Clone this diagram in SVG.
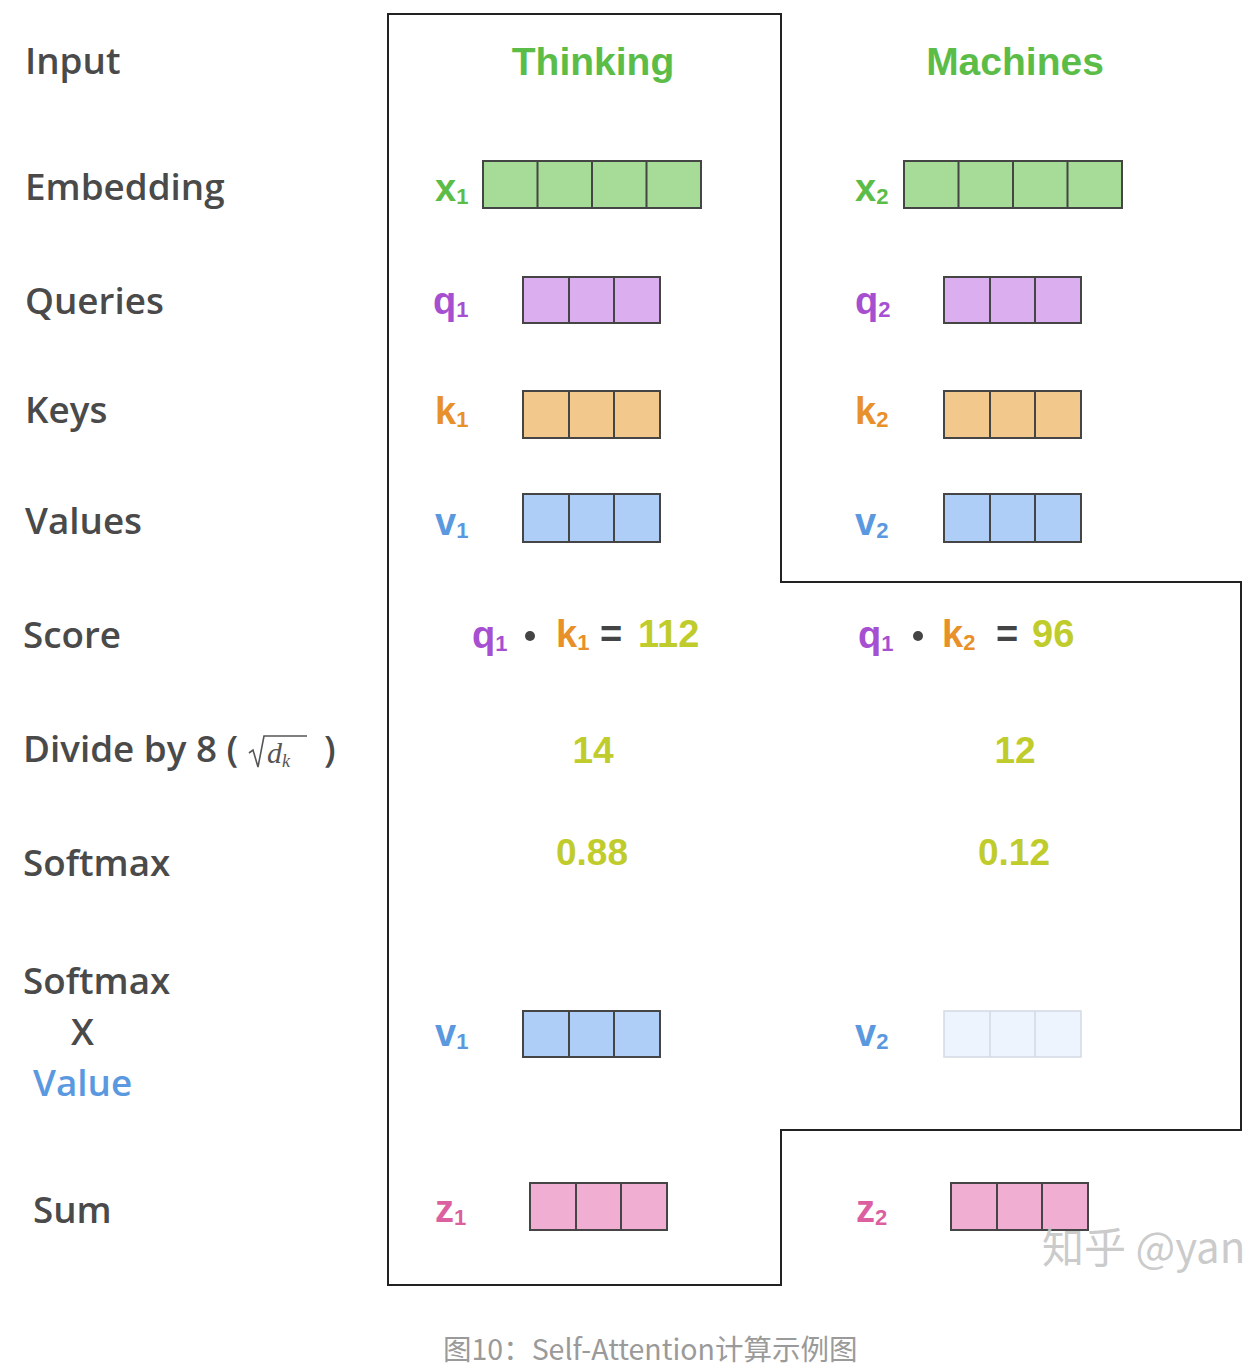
<svg xmlns="http://www.w3.org/2000/svg" width="1252" height="1368" viewBox="0 0 1252 1368">
<style>
.lbl{font-family:"Open Sans","Noto Sans",sans-serif;font-size:36.8px;font-weight:600;fill:#4a4a4a}
.hd{font-family:"Liberation Sans",Arial,sans-serif;font-weight:bold;font-size:39px;fill:#5bbd48;text-anchor:middle}
.v{font-family:"Liberation Sans",Arial,sans-serif;font-weight:bold;font-size:38px}
.num{font-family:"Liberation Sans",Arial,sans-serif;font-weight:bold;font-size:37px;fill:#bfcc2b;text-anchor:middle}
.cell{stroke:#454545;stroke-width:2}
.g{fill:#a6dc97}.p{fill:#dbaeef}.o{fill:#f3c88d}.b{fill:#aecef8}.k{fill:#f0aed3}
.fade{fill:#eef4fd;stroke:#d3d9e2;stroke-width:1.5}
.tg{fill:#5bbd48}.tp{fill:#a64fd1}.to{fill:#e8902a}.tb{fill:#5a98e0}.tk{fill:#dc5fa0}
</style>

<g id="outline">
<path d="M388,14 H781 V582 H1241 V1130 H781 V1285 H388 Z" fill="none" stroke="#222" stroke-width="2"/>
</g>

<g id="row-labels">
<text class="lbl" x="25" y="74">Input</text>
<text class="lbl" x="25" y="200">Embedding</text>
<text class="lbl" x="25" y="314">Queries</text>
<text class="lbl" x="25" y="423">Keys</text>
<text class="lbl" x="25" y="534">Values</text>
<text class="lbl" x="23" y="648">Score</text>
<text class="lbl" x="23" y="762">Divide by 8 (</text>
<g id="sqrt-dk" fill="#555" stroke="#555">
<path d="M249,753 L253,750 L258,767 L264,736 H307" fill="none" stroke-width="1.6"/>
<text x="267" y="763" stroke="none" font-family="Liberation Serif,serif" font-style="italic" font-size="30">d<tspan font-size="18" dy="4">k</tspan></text>
</g>
<text class="lbl" x="324" y="762">)</text>
<text class="lbl" x="23" y="876">Softmax</text>
<text class="lbl" x="23" y="994">Softmax</text>
<text class="lbl" x="71" y="1045">X</text>
<text class="lbl" x="33" y="1096" style="fill:#5a98e0">Value</text>
<text class="lbl" x="33" y="1223">Sum</text>
</g>

<g id="headers">
<text class="hd" x="593" y="75">Thinking</text>
<text class="hd" x="1015" y="75">Machines</text>
</g>

<g id="x1">
<text class="v tg" x="435" y="201">x<tspan font-size="22" dy="3">1</tspan></text>
<rect class="cell g" x="483" y="161" width="218" height="47"/>
<path class="cell" d="M537.5,161V208M592,161V208M646.5,161V208" fill="none"/>
</g>
<g id="x2">
<text class="v tg" x="855" y="201">x<tspan font-size="22" dy="3">2</tspan></text>
<rect class="cell g" x="904" y="161" width="218" height="47"/>
<path class="cell" d="M958.5,161V208M1013,161V208M1067.5,161V208" fill="none"/>
</g>

<g id="q1">
<text class="v tp" x="433" y="314">q<tspan font-size="22" dy="3">1</tspan></text>
<rect class="cell p" x="523" y="277" width="137" height="46"/>
<path class="cell" d="M569,277V323M614,277V323" fill="none"/>
</g>
<g id="q2">
<text class="v tp" x="855" y="314">q<tspan font-size="22" dy="3">2</tspan></text>
<rect class="cell p" x="944" y="277" width="137" height="46"/>
<path class="cell" d="M990,277V323M1035,277V323" fill="none"/>
</g>

<g id="k1">
<text class="v to" x="435" y="424">k<tspan font-size="22" dy="3">1</tspan></text>
<rect class="cell o" x="523" y="391" width="137" height="47"/>
<path class="cell" d="M569,391V438M614,391V438" fill="none"/>
</g>
<g id="k2">
<text class="v to" x="855" y="424">k<tspan font-size="22" dy="3">2</tspan></text>
<rect class="cell o" x="944" y="391" width="137" height="47"/>
<path class="cell" d="M990,391V438M1035,391V438" fill="none"/>
</g>

<g id="v1">
<text class="v tb" x="435" y="535">v<tspan font-size="22" dy="3">1</tspan></text>
<rect class="cell b" x="523" y="494" width="137" height="48"/>
<path class="cell" d="M569,494V542M614,494V542" fill="none"/>
</g>
<g id="v2">
<text class="v tb" x="855" y="535">v<tspan font-size="22" dy="3">2</tspan></text>
<rect class="cell b" x="944" y="494" width="137" height="48"/>
<path class="cell" d="M990,494V542M1035,494V542" fill="none"/>
</g>

<g id="score1">
<text class="v" x="472" y="648"><tspan class="tp">q</tspan><tspan class="tp" font-size="22" dy="3">1</tspan></text>
<circle cx="530" cy="636" r="5" fill="#444"/>
<text class="v" x="556" y="647"><tspan class="to">k</tspan><tspan class="to" font-size="22" dy="3">1</tspan></text>
<text class="v" x="600" y="647" fill="#444">=</text>
<text class="v" x="638" y="647" style="fill:#bfcc2b">112</text>
</g>
<g id="score2">
<text class="v" x="858" y="648"><tspan class="tp">q</tspan><tspan class="tp" font-size="22" dy="3">1</tspan></text>
<circle cx="918" cy="636" r="5" fill="#444"/>
<text class="v" x="942" y="647"><tspan class="to">k</tspan><tspan class="to" font-size="22" dy="3">2</tspan></text>
<text class="v" x="996" y="647" fill="#444">=</text>
<text class="v" x="1032" y="647" style="fill:#bfcc2b">96</text>
</g>

<g id="divide">
<text class="num" x="593" y="763">14</text>
<text class="num" x="1015" y="763">12</text>
</g>
<g id="softmax">
<text class="num" x="592" y="865">0.88</text>
<text class="num" x="1014" y="865">0.12</text>
</g>

<g id="wv1">
<text class="v tb" x="435" y="1046">v<tspan font-size="22" dy="3">1</tspan></text>
<rect class="cell b" x="523" y="1011" width="137" height="46"/>
<path class="cell" d="M569,1011V1057M614,1011V1057" fill="none"/>
</g>
<g id="wv2">
<text class="v tb" x="855" y="1046">v<tspan font-size="22" dy="3">2</tspan></text>
<rect class="fade" x="944" y="1011" width="137" height="46"/>
<path class="fade" d="M990,1011V1057M1035,1011V1057" fill="none"/>
</g>

<g id="z1">
<text class="v tk" x="435" y="1222">z<tspan font-size="22" dy="3">1</tspan></text>
<rect class="cell k" x="530" y="1183" width="137" height="47"/>
<path class="cell" d="M576,1183V1230M621,1183V1230" fill="none"/>
</g>
<g id="z2">
<text class="v tk" x="856" y="1222">z<tspan font-size="22" dy="3">2</tspan></text>
<rect class="cell k" x="951" y="1183" width="137" height="47"/>
<path class="cell" d="M997,1183V1230M1042,1183V1230" fill="none"/>
</g>

<g id="watermark">
<text x="1042" y="1263" font-family="Noto Sans CJK SC,Noto Sans,sans-serif" font-size="42" fill="#c4c4c4" fill-opacity="0.9">知乎 @yan</text>
</g>

<g id="caption">
<text x="443" y="1360" font-family="Noto Sans CJK SC,Noto Sans,sans-serif" font-size="28.5" fill="#9a9a9a">图10：Self-Attention计算示例图</text>
</g>
</svg>
